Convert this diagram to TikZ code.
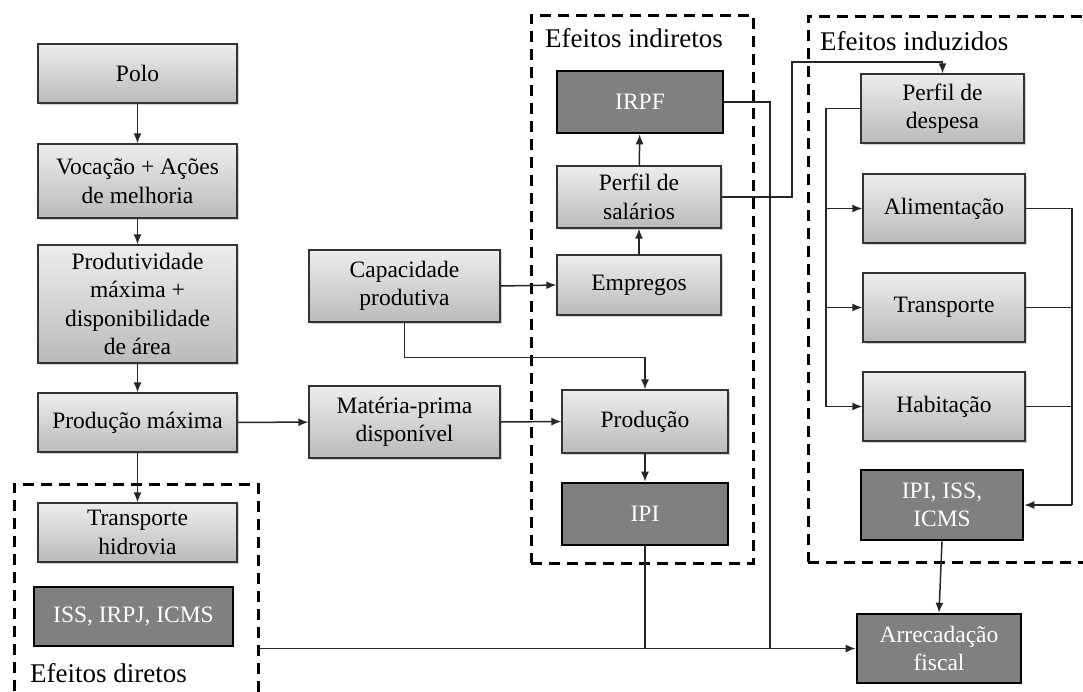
\documentclass[tikz,border=0pt]{standalone}
\usepackage{fontspec}
\setmainfont{Liberation Serif}
\usetikzlibrary{arrows.meta,shadows}
\begin{document}
\begin{tikzpicture}[x=1pt,y=-1pt,
  lbox/.style={draw=black!80, line width=1.3pt, top color=black!7, bottom color=black!27,
    drop shadow={opacity=0.35, shadow xshift=1.5pt, shadow yshift=-1.8pt},
    align=center, inner sep=0pt, font=\fontsize{23.5}{28.5}\selectfont},
  dbox/.style={draw=black, line width=2.6pt, fill=black!50, text=white,
    align=center, inner sep=0pt, font=\fontsize{23.5}{28.5}\selectfont},
  dashbox/.style={draw=black, line width=3pt, dash pattern=on 11pt off 7pt, inner sep=0pt},
  grouplabel/.style={anchor=base west, inner sep=0pt, font=\fontsize{27}{32}\selectfont},
  conn/.style={draw=black!85, line width=1.5pt},
  arrow/.style={conn, -{Latex[length=10pt,width=8pt]}},
  wh/.style 2 args={minimum width=#1pt, minimum height=#2pt}
]
\useasboundingbox (0,0) rectangle (1083,691);
\clip (0,0) rectangle (1083,691);

% dashed group frames
\node[dashbox, wh={244}{216}] (dir)  at (136,592) {};
\node[dashbox, wh={222}{548}] (ind)  at (642,289) {};
\node[dashbox, wh={287}{546}] (indz) at (951.5,289) {};
\node[grouplabel] (ldir)  at (30,682) {Efeitos diretos};
\node[grouplabel] (lind)  at (545,47) {Efeitos indiretos};
\node[grouplabel] (lindz) at (820,50) {Efeitos induzidos};

% left column
\node[lbox, wh={199}{59}]  (polo) at (137.5,73.5) {Polo};
\node[lbox, wh={199}{74}]  (voc)  at (137.5,181) {Vocação + Ações\\de melhoria};
\node[lbox, wh={199}{118}] (ptv)  at (137.5,304) {Produtividade\\máxima +\\disponibilidade\\de área};
\node[lbox, wh={199}{59}]  (pm)   at (137.5,422.5) {Produção máxima};
\node[lbox, wh={199}{59}]  (th)   at (137.5,532.5) {Transporte\\hidrovia};
\node[dbox, wh={199}{59}]  (dirt) at (133.5,616.5) {ISS, IRPJ, ICMS};

% middle column
\node[lbox, wh={191}{72}] (cap) at (404.5,286) {Capacidade\\produtiva};
\node[lbox, wh={191}{72}] (mat) at (404.5,422) {Matéria-prima\\disponível};

% indirect effects
\node[dbox, wh={166}{62}] (irpf) at (640,102) {IRPF};
\node[lbox, wh={164}{62}] (sal)  at (639,197) {Perfil de\\salários};
\node[lbox, wh={164}{60}] (emp)  at (639,285) {Empregos};
\node[lbox, wh={166}{63}] (prod) at (645,421.5) {Produção};
\node[dbox, wh={166}{62}] (ipi)  at (645,514) {IPI};

% induced effects
\node[lbox, wh={163}{69}] (desp) at (942.5,108.5) {Perfil de\\despesa};
\node[lbox, wh={162}{69}] (ali)  at (944,208.5) {Alimentação};
\node[lbox, wh={162}{69}] (tra)  at (944,307.5) {Transporte};
\node[lbox, wh={162}{69}] (hab)  at (944,406.5) {Habitação};
\node[dbox, wh={162}{70}] (imp)  at (942,505) {IPI, ISS,\\ICMS};
\node[dbox, wh={164}{69}] (arr)  at (939,648.5) {Arrecadação\\fiscal};

% routing points
\coordinate (tap) at (792,62);
\coordinate (jr)  at (770,0);
\coordinate (lb)  at (826,0);
\coordinate (rb)  at (1072,0);

% main chain
\draw[arrow] (polo) -- (voc);
\draw[arrow] (voc) -- (ptv);
\draw[arrow] (ptv) -- (pm);
\draw[arrow] (pm) -- (th);
\draw[arrow] (pm) -- (mat);
\draw[arrow] (mat.east) -- (prod.west);
\draw[arrow] (cap.east) -- (emp.west);
\draw[arrow] (cap.south) -- ++(0,35) -| (prod.north);
\draw[arrow] (emp) -- (sal);
\draw[arrow] (sal) -- (irpf);
\draw[arrow] (prod) -- (ipi);

% wages to spending profile
\draw[arrow] (sal.east) -| (tap) -| (desp.north);

% spending profile branches
\draw[conn] (desp.west) -| (lb |- hab.west);
\draw[arrow] (lb |- ali.west) -- (ali.west);
\draw[arrow] (lb |- tra.west) -- (tra.west);
\draw[arrow] (lb |- hab.west) -- (hab.west);
\draw[conn] (ali.east) -| (rb |- imp.east);
\draw[conn] (tra.east) -- (rb |- tra.east);
\draw[conn] (hab.east) -- (rb |- hab.east);
\draw[arrow] (rb |- imp.east) -- (imp.east);
\draw[arrow] (imp.south) -- (arr.north);

% tax collection
\draw[conn] (irpf.east) -| (jr |- arr.west);
\draw[conn] (ipi.south) -- (ipi.south |- arr.west);
\draw[arrow] (dir.east |- arr.west) -- (arr.west);
\end{tikzpicture}
\end{document}
